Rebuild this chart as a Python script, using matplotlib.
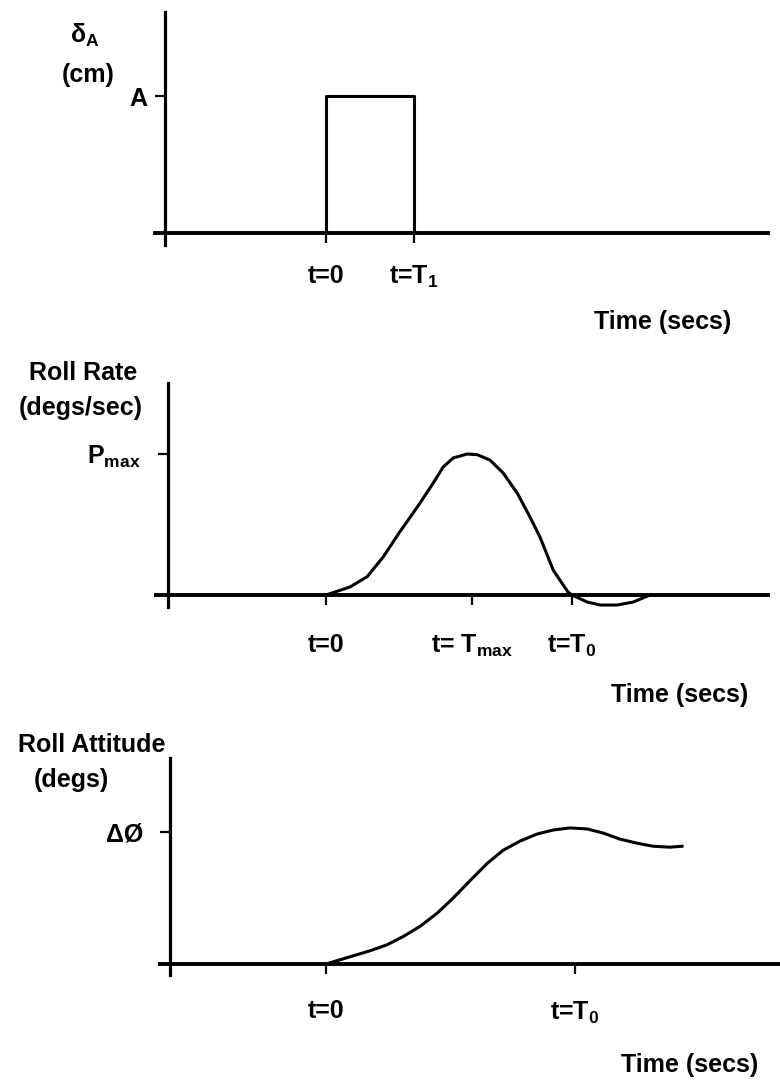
import numpy as np
import matplotlib.pyplot as plt

plt.rcParams['font.family'] = ['Liberation Sans', 'DejaVu Sans']
plt.rcParams['font.weight'] = 'bold'
plt.rcParams['mathtext.fontset'] = 'custom'
plt.rcParams['mathtext.rm'] = 'Liberation Sans:bold'
plt.rcParams['mathtext.it'] = 'Liberation Sans:bold'
plt.rcParams['mathtext.bf'] = 'Liberation Sans:bold'
plt.rcParams['mathtext.default'] = 'rm'

# --- data (time in arbitrary units, response normalised to its max) ---
T1 = 2.2
T_MAX = 3.65
T_0 = 6.15
T_0_ATT = 6.22

pulse_t = [0, 0, T1, T1]
pulse_d = [0, 1, 1, 0]

rate_t = [0, 0.6, 1.03, 1.43, 1.85, 2.1, 2.35, 2.68, 2.93, 3.18, 3.53, 3.78,
          4.1, 4.43, 4.78, 5.1, 5.35, 5.68, 5.93, 6.05, 6.15, 6.53, 6.85,
          7.28, 7.68, 8.1]
rate_p = [0, 0.057, 0.13, 0.27, 0.45, 0.55, 0.652, 0.794, 0.908, 0.972,
          1.0, 0.995, 0.957, 0.865, 0.723, 0.553, 0.411, 0.177, 0.071, 0.021,
          0, -0.05, -0.071, -0.071, -0.05, 0]

att_t = [0, 0.68, 1.1, 1.53, 1.93, 2.35, 2.78, 3.18, 3.6, 4.03, 4.43, 4.85,
         5.28, 5.68, 6.1, 6.53, 6.93, 7.35, 7.78, 8.18, 8.6, 8.9]
att_phi = [0, 0.062, 0.1, 0.146, 0.208, 0.285, 0.385, 0.5, 0.631, 0.762,
           0.862, 0.931, 0.985, 1.015, 1.031, 1.023, 0.992, 0.946, 0.915,
           0.892, 0.885, 0.892]

W, H = 780, 1080
PX = 40.0  # pixels per time unit
fig = plt.figure(figsize=(W / 100, H / 100), dpi=100)


def panel(t0_px, yaxis_px, left_px, right_px, top_px, zero_px, bot_px, unit_px):
    ax = fig.add_axes([left_px / W, 1 - bot_px / H,
                       (right_px - left_px) / W, (bot_px - top_px) / H])
    ax.set_xlim((left_px - t0_px) / PX, (right_px - t0_px) / PX)
    ax.set_ylim(-(bot_px - zero_px) / unit_px, (zero_px - top_px) / unit_px)
    ax.patch.set_visible(False)
    for s in ['top', 'right']:
        ax.spines[s].set_visible(False)
    ax.spines['left'].set_position(('data', (yaxis_px - t0_px) / PX))
    ax.spines['bottom'].set_position(('data', 0))
    ax.spines['left'].set_linewidth(2.3)
    ax.spines['bottom'].set_linewidth(2.8)
    ax.tick_params(axis='both', direction='out', length=7.5, width=1.6,
                   labelsize=18)
    return ax


# panel 1 - aileron input
ax1 = panel(326, 165, 155, 768, 12, 233, 245, 137)
ax1.plot(pulse_t, pulse_d, color='black', lw=2.2)
ax1.set_xticks([0, T1])
ax1.set_xticklabels(['t=0', 't=T$_1$'])
ax1.set_yticks([1])
ax1.set_yticklabels(['A'])
ax1.tick_params(axis='x', pad=15)
ax1.tick_params(axis='y', pad=5)

# panel 2 - roll rate
ax2 = panel(326, 168, 156, 768, 383, 595, 607, 141)
ax2.plot(rate_t, rate_p, color='black', lw=2.2)
ax2.set_xticks([0, T_MAX, T_0])
ax2.set_xticklabels(['t=0', 't= T$_{max}$', 't=T$_0$'])
ax2.set_yticks([1])
ax2.set_yticklabels(['P$_{max}$'])
ax2.tick_params(axis='x', pad=20)
ax2.tick_params(axis='y', pad=12)

# panel 3 - roll attitude
ax3 = panel(326, 170, 160, 780, 758, 964, 975, 132)
ax3.plot(att_t, att_phi, color='black', lw=2.2)
ax3.set_xticks([0, T_0_ATT])
ax3.set_xticklabels(['t=0', 't=T$_0$'])
ax3.set_yticks([1])
ax3.set_yticklabels(['ΔØ'])
ax3.tick_params(axis='x', pad=18)
ax3.tick_params(axis='y', pad=12)


def label(x_px, y_px, s, **kw):
    fig.text(x_px / W, 1 - y_px / H, s, ha='center', va='center',
             fontsize=18, fontweight='bold', **kw)


label(85, 35, r'$\delta_A$')
label(88, 75, '(cm)')
label(663, 322, 'Time (secs)')
label(83, 373, 'Roll Rate')
label(81, 408, '(degs/sec)')
label(680, 695, 'Time (secs)')
label(92, 745, 'Roll Attitude')
label(71, 780, '(degs)')
label(690, 1065, 'Time (secs)')

fig.savefig('out.png', dpi=100)
